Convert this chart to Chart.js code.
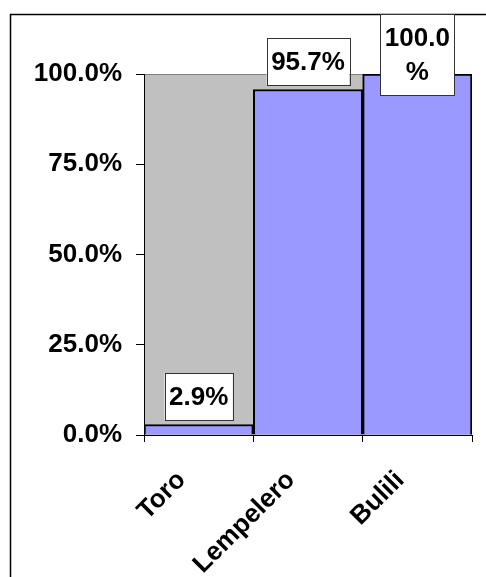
<!DOCTYPE html>
<html>
<head>
<meta charset="utf-8">
<script src="https://cdn.jsdelivr.net/npm/chart.js@4/dist/chart.umd.min.js"></script>
<style>
  html, body { margin: 0; padding: 0; background: #ffffff; }
  #wrap { width: 486px; height: 577px; }
</style>
</head>
<body>
<div id="wrap"><canvas id="chart" width="486" height="577"></canvas></div>
<script>
// Share of each site (percent)
const categories = ['Toro', 'Lempelero', 'Bulili'];
const shares = [2.9, 95.7, 100.0];
const yTicks = [0, 25, 50, 75, 100];

const FONT = '"Liberation Sans", Arial, sans-serif';
const FONT_SIZE = 26;

// Outer frame and grey plot background
const framePlugin = {
  id: 'frame',
  beforeDraw(chart) {
    const { ctx, chartArea: a } = chart;
    ctx.save();
    ctx.fillStyle = '#ffffff';
    ctx.fillRect(0, 0, chart.width, chart.height);
    ctx.strokeStyle = '#000000';
    ctx.lineWidth = 1.5;
    ctx.strokeRect(10.5, 14.5, chart.width + 20, chart.height + 20);
    ctx.fillStyle = '#c0c0c0';
    ctx.fillRect(a.left, a.top, a.right - a.left, a.bottom - a.top);
    ctx.strokeStyle = '#808080';
    ctx.lineWidth = 1;
    ctx.strokeRect(a.left + 0.5, a.top + 0.5, a.right - a.left - 1, a.bottom - a.top);
    ctx.restore();
  }
};

// Category names, slanted at 45 degrees under each bar
const slantedLabels = {
  id: 'slantedLabels',
  afterDraw(chart) {
    const { ctx } = chart;
    const x = chart.scales.x;
    ctx.save();
    ctx.font = 'bold ' + FONT_SIZE + 'px ' + FONT;
    ctx.fillStyle = '#000000';
    ctx.textAlign = 'right';
    ctx.textBaseline = 'middle';
    categories.forEach((name, i) => {
      const px = x.getPixelForValue(i) - 17;
      const py = x.top + 41;
      ctx.save();
      ctx.translate(px, py);
      ctx.rotate(-Math.PI / 4);
      ctx.fillText(name, 0, 0);
      ctx.restore();
    });
    ctx.restore();
  }
};

// Boxed value labels above each bar
const valueBoxes = {
  id: 'valueBoxes',
  afterDatasetsDraw(chart) {
    const { ctx } = chart;
    const meta = chart.getDatasetMeta(0);
    ctx.save();
    ctx.font = 'bold ' + FONT_SIZE + 'px ' + FONT;
    ctx.textAlign = 'center';
    ctx.textBaseline = 'middle';
    meta.data.forEach((bar, i) => {
      const text = shares[i].toFixed(1) + '%';
      let lines = [text];
      if (ctx.measureText(text).width > 80) {
        lines = [text.slice(0, -1), '%'];
      }
      const lineH = 34;
      const w = Math.max(...lines.map(l => ctx.measureText(l).width)) + 9;
      const h = 47 + (lines.length - 1) * lineH;
      let bottom = bar.y - 4.5;
      let top = bottom - h;
      if (top < 14) { top = 14; bottom = top + h; }
      const left = bar.x - w / 2;
      ctx.fillStyle = '#ffffff';
      ctx.fillRect(left, top, w, h);
      ctx.strokeStyle = '#333333';
      ctx.lineWidth = 1;
      ctx.strokeRect(Math.round(left) + 0.5, Math.round(top) + 0.5, Math.round(w), Math.round(h));
      ctx.fillStyle = '#000000';
      const cy = (top + bottom) / 2 + 1;
      lines.forEach((l, k) => {
        ctx.fillText(l, bar.x, cy + (k - (lines.length - 1) / 2) * lineH);
      });
    });
    ctx.restore();
  }
};

new Chart(document.getElementById('chart'), {
  type: 'bar',
  data: {
    labels: categories,
    datasets: [{
      data: shares,
      backgroundColor: '#9999ff',
      borderColor: '#000000',
      borderWidth: 2,
      categoryPercentage: 1.0,
      barPercentage: 1.0
    }]
  },
  options: {
    responsive: false,
    animation: false,
    devicePixelRatio: 1,
    layout: { padding: { left: 0, top: 74, right: 14, bottom: 0 } },
    plugins: {
      legend: { display: false },
      tooltip: { enabled: false }
    },
    scales: {
      x: {
        afterFit(scale) { scale.height = 142; },
        grid: {
          display: true,
          drawOnChartArea: false,
          offset: true,
          color: '#000000',
          tickLength: 7
        },
        border: { display: true, color: '#000000', width: 1 },
        ticks: { display: false }
      },
      y: {
        min: 0,
        max: 100,
        afterFit(scale) { scale.width = 144; },
        afterBuildTicks(scale) { scale.ticks = yTicks.map(v => ({ value: v })); },
        grid: {
          display: true,
          drawOnChartArea: false,
          color: '#000000',
          tickLength: 8
        },
        border: { display: true, color: '#000000', width: 1 },
        ticks: {
          color: '#000000',
          font: { family: FONT, size: FONT_SIZE, weight: 'bold' },
          padding: 14,
          callback: v => v.toFixed(1) + '%'
        }
      }
    }
  },
  plugins: [framePlugin, slantedLabels, valueBoxes]
});
</script>
</body>
</html>
